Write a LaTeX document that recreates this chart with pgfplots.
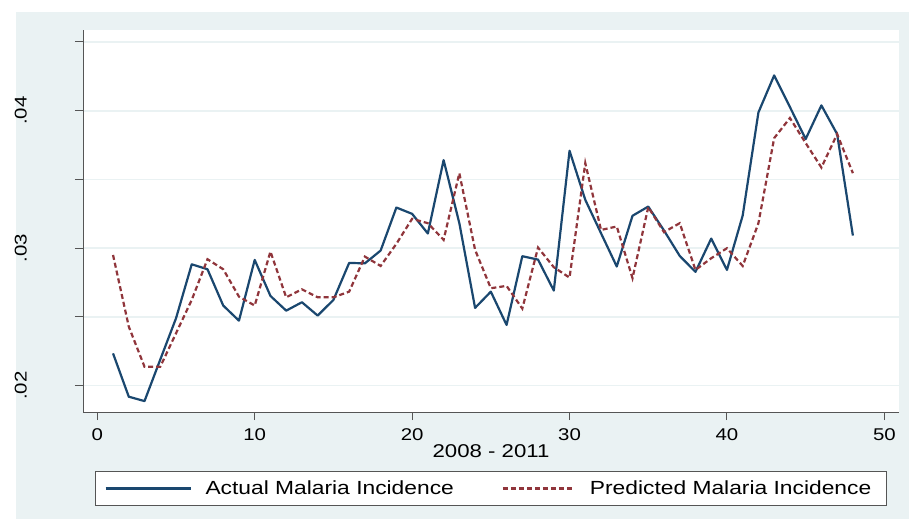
\documentclass[border=0pt]{standalone}
\usepackage{fontspec}
\setmainfont{Liberation Sans}[FakeStretch=1.2]
\usepackage{pgfplots}
\usepackage{pgfplotstable}
\pgfplotsset{compat=1.18}
\definecolor{bgc}{HTML}{EAF2F3}
\definecolor{sblue}{HTML}{1A476F}
\definecolor{sred}{HTML}{90353B}
\definecolor{axc}{HTML}{555555}
\pgfplotsset{
  limgA/.style={legend image code/.code={\path[draw=none,fill=none] (-10.5pt,0pt) (100pt,0pt); \draw[##1] (0pt,0pt) -- (85pt,0pt);}},
  limgB/.style={legend image code/.code={\path[draw=none,fill=none] (-49pt,0pt) (87pt,0pt); \draw[##1] (0pt,0pt) -- (71pt,0pt);}},
}
\pgfplotstableread{
x y
1 0.02235
2 0.0192
3 0.01888
4 0.0219
5 0.0249
6 0.02883
7 0.02847
8 0.02583
9 0.02473
10 0.02915
11 0.02653
12 0.02546
13 0.02607
14 0.0251
15 0.02624
16 0.02893
17 0.0289
18 0.02983
19 0.03296
20 0.0325
21 0.03107
22 0.03641
23 0.03182
24 0.02566
25 0.02684
26 0.02442
27 0.02942
28 0.02917
29 0.02692
30 0.03709
31 0.03352
32 0.03109
33 0.02867
34 0.03236
35 0.03303
36 0.03129
37 0.02944
38 0.02828
39 0.03070
40 0.02842
41 0.03238
42 0.03988
43 0.04257
44 0.04027
45 0.03794
46 0.04039
47 0.0383
48 0.03092
}\actual
\pgfplotstableread{
x y
1 0.02951
2 0.0243
3 0.02138
4 0.02138
5 0.02381
6 0.02624
7 0.0292
8 0.02847
9 0.02648
10 0.02583
11 0.02976
12 0.02643
13 0.02701
14 0.02643
15 0.02643
16 0.02684
17 0.02939
18 0.02871
19 0.03032
20 0.03214
21 0.03182
22 0.03061
23 0.03546
24 0.02988
25 0.02709
26 0.02726
27 0.02561
28 0.03005
29 0.02862
30 0.02786
31 0.03619
32 0.03133
33 0.03158
34 0.02782
35 0.03299
36 0.03117
37 0.03182
38 0.02842
39 0.02927
40 0.03000
41 0.02871
42 0.03182
43 0.03801
44 0.03947
45 0.03765
46 0.03587
47 0.0383
48 0.03546
}\predicted
\begin{document}
\begin{tikzpicture}[x=1pt,y=1pt]
\useasboundingbox (0,0) rectangle (909,519);
\fill[bgc] (16,0) rectangle (909,507);
\begin{axis}[
  at={(83pt,107pt)}, anchor=south west,
  scale only axis, width=816pt, height=382pt,
  xmin=-0.908, xmax=50.93, ymin=0.018087, ymax=0.045873,
  scaled y ticks=false, scaled x ticks=false,
  axis background/.style={fill=white},
  axis x line*=bottom, axis y line*=left,
  axis line style={axc, line width=1pt, -},
  xtick={0,10,20,30,40,50},
  xticklabels={0,10,20,30,40,50},
  ytick={0.02,0.025,0.03,0.035,0.04,0.045},
  yticklabels={.02,{},.03,{},.04,{}},
  tick align=outside, major tick length=8pt,
  tick style={axc, line width=1pt},
  ymajorgrids, grid style={bgc, line width=1.6pt},
  ticklabel style={font=\fontsize{17}{20}\selectfont},
  xticklabel style={anchor=north, inner sep=0pt},
  xticklabel shift=8pt,
  yticklabel style={rotate=90, anchor=south, inner sep=0pt},
  yticklabel shift=48pt,
  xlabel={2008 - 2011},
  xlabel style={at={(axis description cs:0.5,0)}, anchor=north, yshift=-32pt, inner sep=0pt, font=\fontsize{18.5}{22}\selectfont},
  legend columns=2,
  legend style={at={(axis description cs:0.0141,-0.1537)}, anchor=north west, draw=axc, line width=1pt, fill=white, inner xsep=0pt, inner ysep=9.7pt, font=\fontsize{19}{22}\selectfont, nodes={inner sep=0pt}, column sep=0pt},
]
\addplot[sblue, line width=2.2pt, line join=round, limgA]
  table[x=x,y=y] {\actual};
\addlegendentry{Actual Malaria Incidence}
\addplot[sred, line width=2.2pt, dash pattern=on 5pt off 3pt, limgB]
  table[x=x,y=y] {\predicted};
\addlegendentry{Predicted Malaria Incidence\hspace*{15pt}}
\end{axis}
\end{tikzpicture}
\end{document}
